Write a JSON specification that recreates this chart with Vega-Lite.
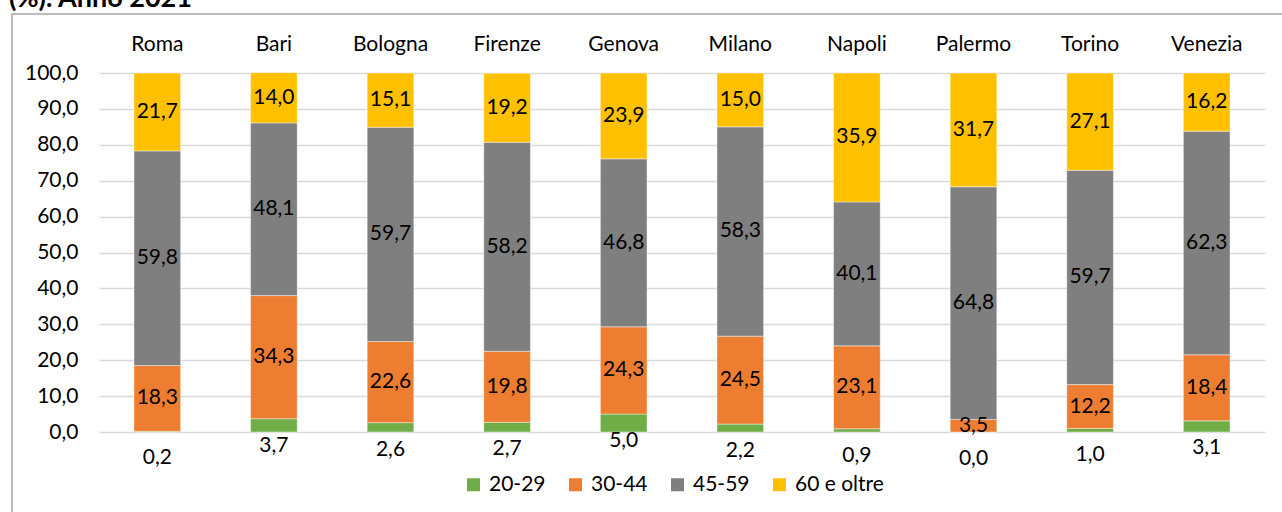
{
  "$schema": "https://vega.github.io/schema/vega-lite/v6.json",
  "width": 1275,
  "height": 500,
  "autosize": {"type": "none"},
  "padding": {"left": 12, "top": 14, "right": 0, "bottom": 0},
  "title": {"text": "(%). Anno 2021", "anchor": "start", "frame": "group", "dx": -3, "offset": 0, "dy": 20, "baseline": "alphabetic", "font": "Lato", "fontSize": 27, "fontWeight": "bold", "color": "#000000"},
  "config": {
    "locale": {"number": {"decimal": ",", "thousands": ".", "grouping": [3], "currency": ["", " €"]}},
    "view": {"stroke": "#A6A6A6", "strokeWidth": 1.5},
    "font": "Lato",
    "axis": {"labelFont": "Lato", "labelFontSize": 21, "labelColor": "#000000"},
    "legend": {"labelFont": "Lato", "labelFontSize": 21, "labelColor": "#000000"}
  },
  "data": {"values": [
    {"citta": "Roma", "classe": "20-29", "valore": 0.2},
    {"citta": "Roma", "classe": "30-44", "valore": 18.3},
    {"citta": "Roma", "classe": "45-59", "valore": 59.8},
    {"citta": "Roma", "classe": "60 e oltre", "valore": 21.7},
    {"citta": "Bari", "classe": "20-29", "valore": 3.7},
    {"citta": "Bari", "classe": "30-44", "valore": 34.3},
    {"citta": "Bari", "classe": "45-59", "valore": 48.1},
    {"citta": "Bari", "classe": "60 e oltre", "valore": 14.0},
    {"citta": "Bologna", "classe": "20-29", "valore": 2.6},
    {"citta": "Bologna", "classe": "30-44", "valore": 22.6},
    {"citta": "Bologna", "classe": "45-59", "valore": 59.7},
    {"citta": "Bologna", "classe": "60 e oltre", "valore": 15.1},
    {"citta": "Firenze", "classe": "20-29", "valore": 2.7},
    {"citta": "Firenze", "classe": "30-44", "valore": 19.8},
    {"citta": "Firenze", "classe": "45-59", "valore": 58.2},
    {"citta": "Firenze", "classe": "60 e oltre", "valore": 19.2},
    {"citta": "Genova", "classe": "20-29", "valore": 5.0},
    {"citta": "Genova", "classe": "30-44", "valore": 24.3},
    {"citta": "Genova", "classe": "45-59", "valore": 46.8},
    {"citta": "Genova", "classe": "60 e oltre", "valore": 23.9},
    {"citta": "Milano", "classe": "20-29", "valore": 2.2},
    {"citta": "Milano", "classe": "30-44", "valore": 24.5},
    {"citta": "Milano", "classe": "45-59", "valore": 58.3},
    {"citta": "Milano", "classe": "60 e oltre", "valore": 15.0},
    {"citta": "Napoli", "classe": "20-29", "valore": 0.9},
    {"citta": "Napoli", "classe": "30-44", "valore": 23.1},
    {"citta": "Napoli", "classe": "45-59", "valore": 40.1},
    {"citta": "Napoli", "classe": "60 e oltre", "valore": 35.9},
    {"citta": "Palermo", "classe": "20-29", "valore": 0.0},
    {"citta": "Palermo", "classe": "30-44", "valore": 3.5},
    {"citta": "Palermo", "classe": "45-59", "valore": 64.8},
    {"citta": "Palermo", "classe": "60 e oltre", "valore": 31.7},
    {"citta": "Torino", "classe": "20-29", "valore": 1.0},
    {"citta": "Torino", "classe": "30-44", "valore": 12.2},
    {"citta": "Torino", "classe": "45-59", "valore": 59.7},
    {"citta": "Torino", "classe": "60 e oltre", "valore": 27.1},
    {"citta": "Venezia", "classe": "20-29", "valore": 3.1},
    {"citta": "Venezia", "classe": "30-44", "valore": 18.4},
    {"citta": "Venezia", "classe": "45-59", "valore": 62.3},
    {"citta": "Venezia", "classe": "60 e oltre", "valore": 16.2}
  ]},
  "transform": [
    {"stack": "valore", "groupby": ["citta"], "sort": [{"field": "classe"}], "as": ["v0", "v1"]},
    {"calculate": "(datum.v0 + datum.v1) / 2", "as": "mid"}
  ],
  "encoding": {
    "x": {
      "field": "citta", "type": "nominal",
      "sort": ["Roma", "Bari", "Bologna", "Firenze", "Genova", "Milano", "Napoli", "Palermo", "Torino", "Venezia"],
      "scale": {"range": [87, 1253], "paddingInner": 0.6, "paddingOuter": 0.3},
      "axis": {"orient": "top", "offset": -40, "labelPadding": 10, "labelBaseline": "middle", "ticks": false, "domain": false, "labelAngle": 0, "title": null, "grid": false}
    }
  },
  "layer": [
    {
      "mark": {"type": "bar", "stroke": "#ffffff", "strokeWidth": 0.6, "strokeOpacity": 0.7},
      "encoding": {
        "y": {
          "field": "v0", "type": "quantitative",
          "scale": {"domain": [0, 100], "range": [418, 59], "nice": false, "zero": true},
          "axis": {"orient": "left", "offset": -87, "labelPadding": 21, "ticks": false, "domain": false, "values": [0, 10, 20, 30, 40, 50, 60, 70, 80, 90, 100], "format": ".1f", "grid": true, "gridColor": "#D9D9D9", "gridWidth": 1.5, "title": null}
        },
        "y2": {"field": "v1"},
        "color": {
          "field": "classe", "type": "nominal",
          "scale": {"domain": ["20-29", "30-44", "45-59", "60 e oltre"], "range": ["#70AD47", "#ED7D31", "#7F7F7F", "#FFC000"]},
          "legend": {"orient": "none", "legendX": 451, "legendY": 460, "direction": "horizontal", "title": null, "symbolType": "square", "symbolSize": 169, "labelOffset": 5, "columnPadding": 19, "symbolStrokeWidth": 0, "padding": 0}
        }
      }
    },
    {
      "transform": [{"filter": "datum.classe !== '20-29'"}],
      "mark": {"type": "text", "fontSize": 21, "color": "#000000"},
      "encoding": {
        "y": {"field": "mid", "type": "quantitative"},
        "text": {"field": "valore", "type": "quantitative", "format": ".1f"}
      }
    },
    {
      "transform": [{"filter": "datum.classe === '20-29'"}],
      "mark": {"type": "text", "fontSize": 21, "color": "#000000", "dy": 27},
      "encoding": {
        "y": {"field": "v1", "type": "quantitative"},
        "text": {"field": "valore", "type": "quantitative", "format": ".1f"}
      }
    }
  ]
}
